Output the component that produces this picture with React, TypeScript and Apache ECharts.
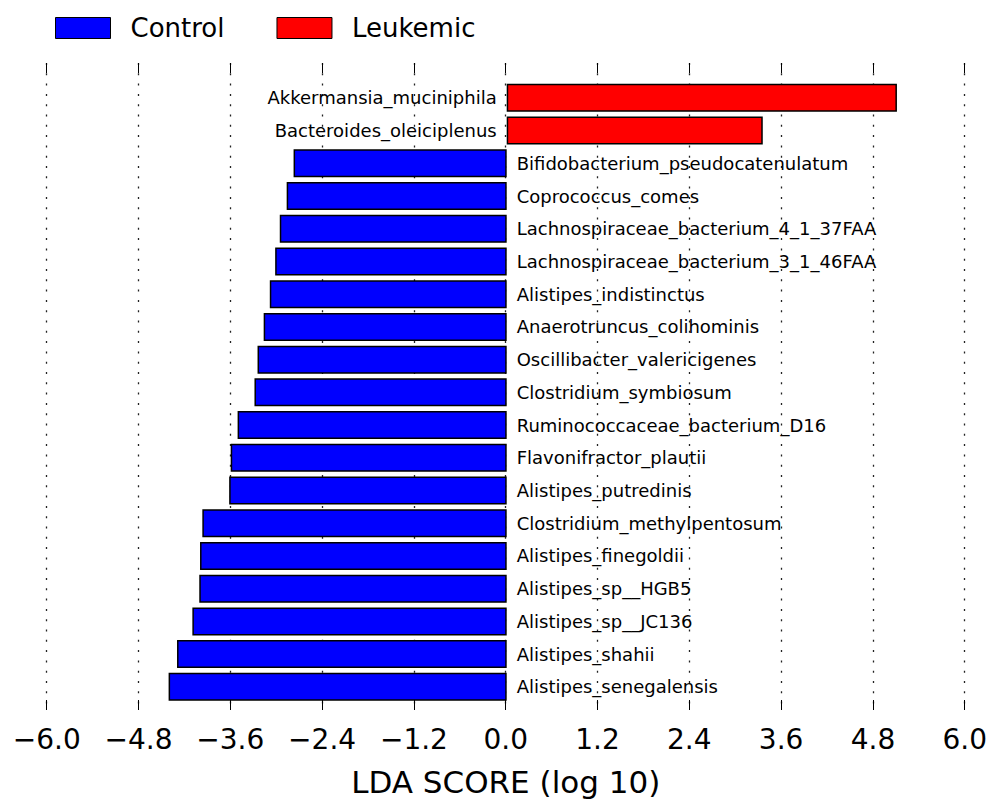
import React, { useEffect, useRef } from "react";
import * as echarts from "echarts";

const categories = [
  "Akkermansia_muciniphila",
  "Bacteroides_oleiciplenus",
  "Bifidobacterium_pseudocatenulatum",
  "Coprococcus_comes",
  "Lachnospiraceae_bacterium_4_1_37FAA",
  "Lachnospiraceae_bacterium_3_1_46FAA",
  "Alistipes_indistinctus",
  "Anaerotruncus_colihominis",
  "Oscillibacter_valericigenes",
  "Clostridium_symbiosum",
  "Ruminococcaceae_bacterium_D16",
  "Flavonifractor_plautii",
  "Alistipes_putredinis",
  "Clostridium_methylpentosum",
  "Alistipes_finegoldii",
  "Alistipes_sp__HGB5",
  "Alistipes_sp__JC136",
  "Alistipes_shahii",
  "Alistipes_senegalensis",
];

const ldaScores = [
  5.09, 3.34, -2.78, -2.87, -2.96, -3.02, -3.09, -3.17, -3.25, -3.29, -3.51,
  -3.6, -3.62, -3.97, -4.0, -4.01, -4.1, -4.3, -4.41,
];

const groups = ["Control", "Leukemic"];
const xTicks = [-6.0, -4.8, -3.6, -2.4, -1.2, 0.0, 1.2, 2.4, 3.6, 4.8, 6.0];

const FONT = "DejaVu Sans";

export default function App() {
  const ref = useRef<HTMLDivElement>(null);
  useEffect(() => {
    if (!ref.current) return;
    const chart = echarts.init(ref.current, null, { renderer: "svg" });
    const xMin = xTicks[0];
    const xMax = xTicks[xTicks.length - 1];
    const step = +(xTicks[1] - xTicks[0]).toFixed(4);
    const controlData = ldaScores.map((v) => (v < 0 ? v : "-"));
    const leukData = ldaScores.map((v) => (v >= 0 ? v : "-"));
    const fmt = (v: number) => v.toFixed(1).replace("-", "\u2212");
    chart.setOption({
      animation: false,
      textStyle: { fontFamily: FONT },
      legend: {
        data: groups,
        left: 50,
        top: 10,
        itemWidth: 55,
        itemHeight: 21,
        itemGap: 52,
        icon: "rect",
        textStyle: {
          fontFamily: FONT,
          fontSize: 26,
          color: "#000",
          padding: [0, 0, 0, 15],
        },
        itemStyle: { borderColor: "#000", borderWidth: 1 },
      },
      grid: [
        { left: 46.7, width: 920, top: 63, height: 655 },
        { left: 46.7, width: 920, top: 81.5, height: 621.7 },
      ],
      xAxis: [
        {
          gridIndex: 0,
          type: "value",
          min: xMin,
          max: xMax,
          interval: step,
          position: "bottom",
          axisLine: { show: false },
          axisTick: { show: true, inside: true, length: 10, lineStyle: { color: "#000", width: 1 } },
          axisLabel: {
            fontFamily: FONT,
            fontSize: 28,
            color: "#000",
            margin: 15,
            formatter: fmt,
          },
          splitLine: {
            show: true,
            lineStyle: { color: "#222", width: 1.3, type: [2, 8.3] },
          },
          name: "LDA SCORE (log 10)",
          nameLocation: "middle",
          nameGap: 56,
          nameTextStyle: { fontFamily: FONT, fontSize: 31, color: "#000" },
        },
        {
          gridIndex: 0,
          type: "value",
          min: xMin,
          max: xMax,
          interval: step,
          position: "top",
          axisLine: { show: false },
          axisTick: { show: true, inside: true, length: 10, lineStyle: { color: "#000", width: 1 } },
          axisLabel: { show: false },
          splitLine: { show: false },
        },
        {
          gridIndex: 1,
          type: "value",
          min: xMin,
          max: xMax,
          interval: step,
          show: false,
          splitLine: { show: false },
        },
      ],
      yAxis: [
        { gridIndex: 0, type: "value", show: false, splitLine: { show: false } },
        {
          gridIndex: 1,
          type: "category",
          data: categories,
          inverse: true,
          show: false,
        },
      ],
      series: [
        {
          name: groups[0],
          type: "bar",
          xAxisIndex: 2,
          yAxisIndex: 1,
          data: controlData,
          barWidth: 28,
          barGap: "-100%",
          itemStyle: { color: "#0000ff", borderColor: "#000", borderWidth: 1.5 },
          label: {
            show: true,
            position: "right",
            distance: 10,
            formatter: "{b}",
            fontFamily: FONT,
            fontSize: 18,
            color: "#000",
          },
        },
        {
          name: groups[1],
          type: "bar",
          xAxisIndex: 2,
          yAxisIndex: 1,
          data: leukData,
          barWidth: 28,
          barGap: "-100%",
          itemStyle: { color: "#ff0000", borderColor: "#000", borderWidth: 1.5 },
          label: {
            show: true,
            position: "left",
            distance: 10,
            formatter: "{b}",
            fontFamily: FONT,
            fontSize: 18,
            color: "#000",
          },
        },
      ],
    });
    return () => chart.dispose();
  }, []);
  return (
    <div
      ref={ref}
      style={{ position: "absolute", left: 0, top: 0, width: 990, height: 802 }}
    />
  );
}
